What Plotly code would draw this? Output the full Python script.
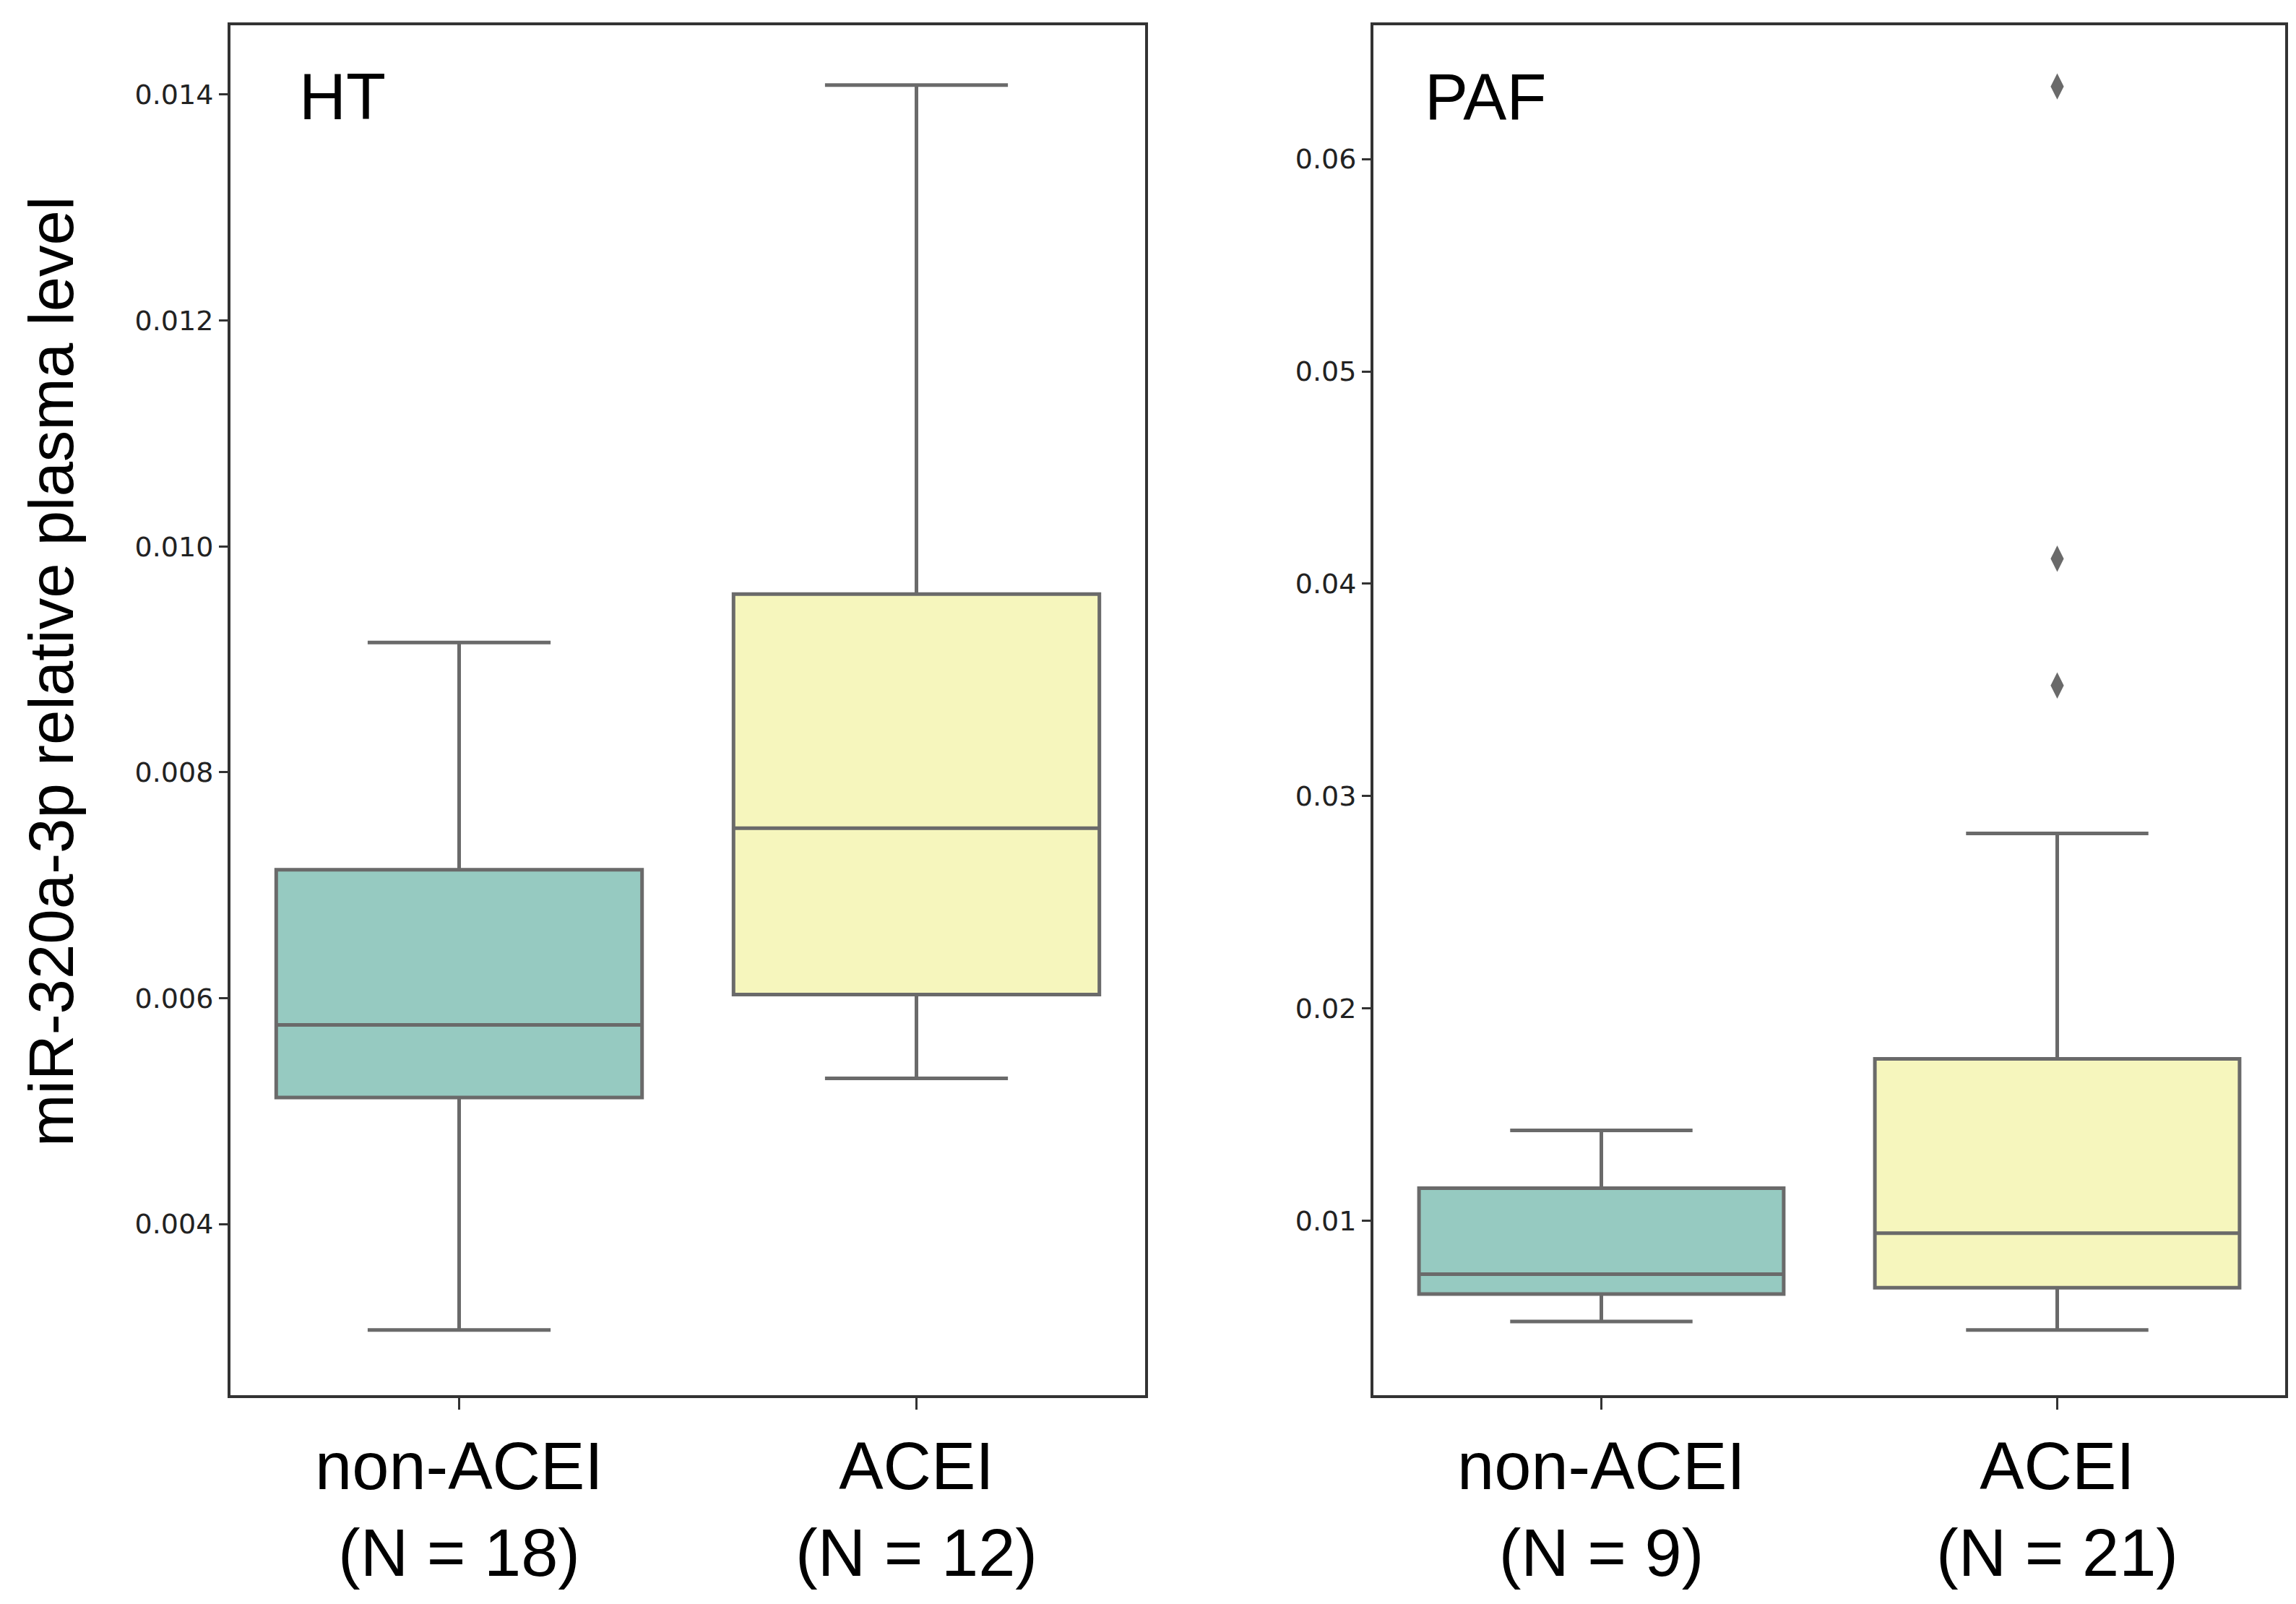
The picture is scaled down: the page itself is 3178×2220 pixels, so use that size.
import plotly.graph_objects as go

# ---- data ----
categories = ["non-ACEI", "ACEI"]
ht_labels = ["non-ACEI<br>(N = 18)", "ACEI<br>(N = 12)"]
paf_labels = ["non-ACEI<br>(N = 9)", "ACEI<br>(N = 21)"]

ht_lower = [0.003061, 0.005290]
ht_q1 = [0.005120, 0.006032]
ht_median = [0.005763, 0.007504]
ht_q3 = [0.007136, 0.009578]
ht_upper = [0.009149, 0.014085]

paf_lower = [0.005260, 0.004862]
paf_q1 = [0.006557, 0.006849]
paf_median = [0.007486, 0.009418]
paf_q3 = [0.011535, 0.017625]
paf_upper = [0.014263, 0.028240]

paf_outlier_cat = ["ACEI", "ACEI", "ACEI"]
paf_outliers = [0.06342, 0.04118, 0.03521]

ht_ticks = [0.004, 0.006, 0.008, 0.010, 0.012, 0.014]
paf_ticks = [0.01, 0.02, 0.03, 0.04, 0.05, 0.06]

fills = ["#96CAC1", "#F6F6BD"]
line_gray = "#6A6A6A"
frame = "#333333"

fig = go.Figure()

def add_boxes(xaxis, yaxis, labels, lo, q1, med, q3, hi):
    for i, cat in enumerate(categories):
        fig.add_trace(go.Box(
            x=[labels[i]], q1=[q1[i]], median=[med[i]], q3=[q3[i]],
            lowerfence=[lo[i]], upperfence=[hi[i]],
            boxpoints=False, width=0.8, whiskerwidth=0.5,
            fillcolor=fills[i], line=dict(color=line_gray, width=5),
            xaxis=xaxis, yaxis=yaxis, showlegend=False, name=cat,
        ))

add_boxes("x", "y", ht_labels, ht_lower, ht_q1, ht_median, ht_q3, ht_upper)
add_boxes("x2", "y2", paf_labels, paf_lower, paf_q1, paf_median, paf_q3, paf_upper)

fig.add_trace(go.Scatter(
    x=[paf_labels[categories.index(c)] for c in paf_outlier_cat], y=paf_outliers,
    mode="markers", marker=dict(symbol="diamond-tall", size=26, color=line_gray,
                                line=dict(width=0)),
    xaxis="x2", yaxis="y2", showlegend=False,
))

W, H = 3178, 2220
xdom1 = [311 / W, 1577 / W]
xdom2 = [1893 / W, 3155 / W]
ydom = [1 - 1923 / H, 1 - 27 / H]

xfont = dict(family="Liberation Sans, Arial, sans-serif", size=92, color="#000000")
yfont = dict(family="DejaVu Sans, sans-serif", size=38, color="#222222")

common_x = dict(showline=True, linecolor=frame, linewidth=4, mirror=True,
                ticks="outside", ticklen=16, tickwidth=3, tickcolor=frame,
                showgrid=False, zeroline=False, tickfont=xfont, type="category",
                range=[-0.5, 1.5], fixedrange=True)
common_y = dict(showline=True, linecolor=frame, linewidth=4, mirror=True,
                ticks="outside", ticklen=12, tickwidth=3, tickcolor=frame,
                showgrid=False, zeroline=False, tickfont=yfont, fixedrange=True)

fig.update_layout(
    width=W, height=H,
    margin=dict(l=0, r=0, t=0, b=0),
    paper_bgcolor="white", plot_bgcolor="white",
    boxmode="overlay",
    xaxis=dict(domain=xdom1, anchor="y", categoryarray=ht_labels,
               categoryorder="array", **common_x),
    xaxis2=dict(domain=xdom2, anchor="y2", categoryarray=paf_labels,
                categoryorder="array", **common_x),
    yaxis=dict(domain=ydom, anchor="x", range=[0.002484, 0.014614],
               tickvals=ht_ticks, tickformat=".3f", **common_y),
    yaxis2=dict(domain=ydom, anchor="x2", range=[0.00179, 0.0663],
                tickvals=paf_ticks, tickformat=".2f", **common_y),
)

label_font = dict(family="Liberation Sans, Arial, sans-serif", size=90, color="#000000")
fig.add_annotation(text="HT", xref="paper", yref="paper", x=404 / W, y=1 - 126 / H,
                   xanchor="left", yanchor="middle", showarrow=False, font=label_font)
fig.add_annotation(text="PAF", xref="paper", yref="paper", x=1962 / W, y=1 - 126 / H,
                   xanchor="left", yanchor="middle", showarrow=False, font=label_font)
fig.add_annotation(text="miR-320a-3p relative plasma level", xref="paper", yref="paper",
                   x=62 / W, y=1 - 922 / H, xanchor="center", yanchor="middle",
                   textangle=-90, showarrow=False,
                   font=dict(family="Liberation Sans, Arial, sans-serif", size=87,
                             color="#000000"))

fig.write_html("out.html")
